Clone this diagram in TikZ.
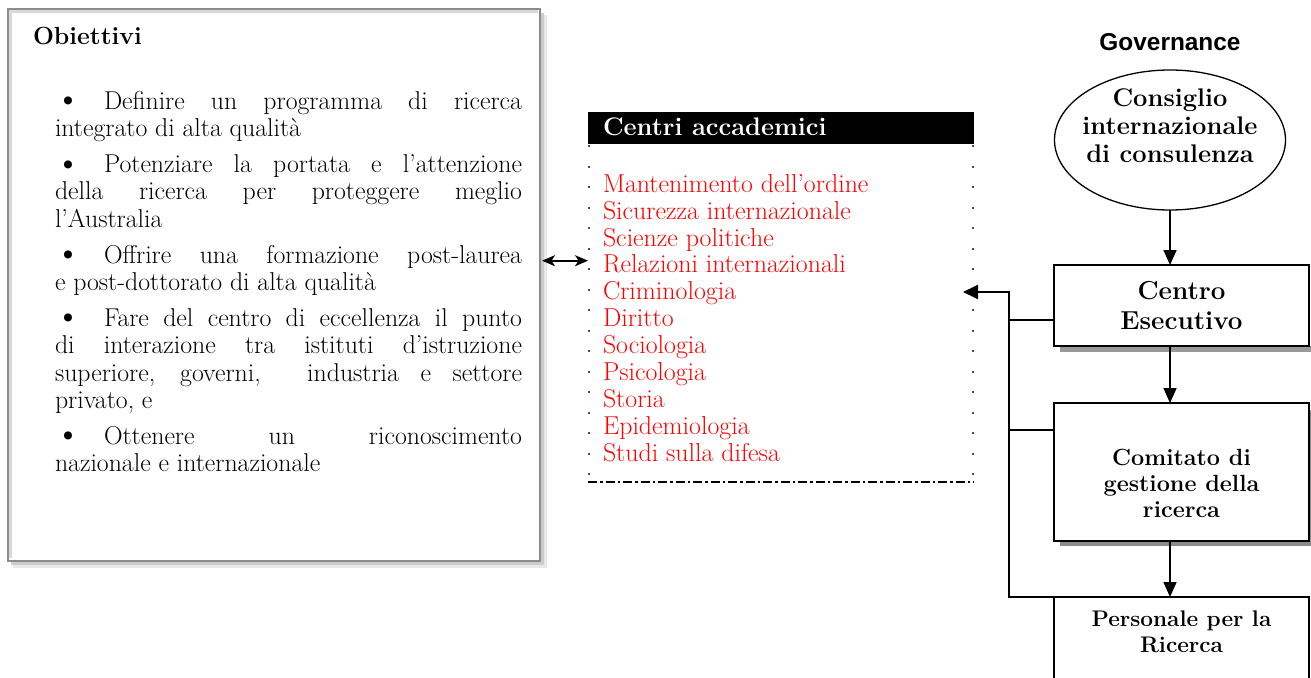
\documentclass[tikz,border=0pt]{standalone}
\usepackage{fontspec}
\newfontfamily\govfont{Liberation Sans}
\usetikzlibrary{arrows.meta,shapes.geometric}
\newcommand{\bul}{\makebox[49pt][l]{\raisebox{-1.5pt}{\fontsize{36}{36}\selectfont\textbullet}}}
\begin{document}
\begin{tikzpicture}[x=1pt,y=-1pt,
  box/.style={draw=black, line width=2pt, fill=white, inner sep=0pt, outer sep=0pt},
  txt/.style={inner sep=0pt, outer sep=0pt},
  lbl/.style={inner sep=0pt, outer sep=0pt, align=center},
  conn/.style={line width=2pt},
  down/.style={line width=1.6pt, -{Triangle[length=15pt,width=13pt]}},
  big/.style={line width=2pt, -{Triangle[length=15pt,width=14pt]}},
  bi/.style={line width=1.6pt, {Stealth[length=13pt,width=11pt,inset=3.5pt]}-{Stealth[length=13pt,width=11pt,inset=3.5pt]}},
]
\useasboundingbox (0,0) rectangle (1311,677);

% ---------- Obiettivi box ----------
\fill[gray!18] (13,15) rectangle (547,568);
\fill[gray!40] (11,13) rectangle (544,565);
\node (obj) [draw=black!45, line width=2pt, fill=white, inner sep=0pt, outer sep=0pt,
  minimum width=532pt, minimum height=551pt] at (274,285) {};
\draw[gray!30, line width=2.5pt] (10.25,558) -- (10.25,11.75) -- (538,11.75);

\node (objtitle) [txt, anchor=base west, font=\bfseries\fontsize{24.8}{28}\selectfont] at (33,45) {Obiettivi};

\node (objlist) [txt, anchor=north west, align=left, font=\fontsize{25.8}{27.3}\selectfont] at (55,91.1) {%
\makebox[467pt][s]{\bul Definire un programma di ricerca}\\
integrato di alta qualità\\[8.7pt]
\makebox[467pt][s]{\bul Potenziare la portata e l'attenzione}\\
\makebox[467pt][s]{della ricerca per proteggere meglio}\\
l’Australia\\[8.7pt]
\makebox[467pt][s]{\bul Offrire una formazione post-laurea}\\
e post-dottorato di alta qualità\\[8.7pt]
\makebox[467pt][s]{\bul Fare del centro di eccellenza il punto}\\
\makebox[467pt][s]{di interazione tra istituti d'istruzione}\\
\makebox[467pt][s]{superiore, governi, \ industria e settore}\\
privato, e\\[8.7pt]
\makebox[467pt][s]{\bul Ottenere un riconoscimento}\\
nazionale e internazionale};

% ---------- Centri accademici ----------
\node (centri) [txt, anchor=north west, minimum width=386pt, minimum height=370pt] at (588,112) {};
\node (cbar) [fill=black, inner sep=0pt, outer sep=0pt, anchor=north west,
  minimum width=386pt, minimum height=32pt] at (588,112) {};
\node (ctitle) [txt, anchor=base west, text=white, font=\bfseries\fontsize{25.4}{28}\selectfont] at (603,135) {Centri accademici};
\draw[black!70, line width=2pt, dash pattern=on 2pt off 18.5pt] (589,145) -- (589,478);
\draw[black!70, line width=2pt, dash pattern=on 2pt off 18.5pt] (972.5,145) -- (972.5,478);
\draw[black, line width=2pt, dash pattern=on 9pt off 3pt on 2.5pt off 3pt] (588,482) -- (974,482);

\node (clist) [txt, anchor=north west, align=left, text={rgb,255:red,255;green,0;blue,0},
  font=\fontsize{25.9}{26.9}\selectfont] at (603,174.3) {%
Mantenimento dell’ordine\\
Sicurezza internazionale\\
Scienze politiche\\
Relazioni internazionali\\
Criminologia\\
Diritto\\
Sociologia\\
Psicologia\\
Storia\\
Epidemiologia\\
Studi sulla difesa};

\coordinate (ay) at (0,260.7);
\draw[bi] ([xshift=2pt]obj.east |- ay) -- (centri.west |- ay);

% ---------- Governance ----------
\node (gov) [txt, anchor=base, font=\govfont\bfseries\fontsize{24.4}{28}\selectfont] at (1170,50.7) {Governance};

\node (cons) [ellipse, draw, line width=1.3pt, fill=white, inner sep=0pt, outer sep=0pt,
  minimum width=231pt, minimum height=140pt] at (1170,140) {};
\node (constext) [lbl, anchor=north, font=\bfseries\fontsize{25.5}{28}\selectfont] at (1170,88.3) {Consiglio\\internazionale\\di consulenza};

% shadows
\fill[black!40] (1060,346) rectangle (1313,352);
\fill[black!45] (1060,410) rectangle (1314,546);

\node (ce) [box, minimum width=255pt, minimum height=81pt, align=center,
  font=\bfseries\fontsize{26}{30}\selectfont] at (1181.5,305.5) {Centro\\Esecutivo};
\node (com) [box, minimum width=255pt, minimum height=138pt] at (1181.5,472) {};
\node (comtext) [lbl, anchor=north, font=\bfseries\fontsize{23.4}{26}\selectfont] at (1181.5,448.8) {Comitato di\\gestione della\\ricerca};
\node (pers) [box, minimum width=255pt, minimum height=87pt] at (1181.5,640.5) {};
\node (perstext) [lbl, anchor=north, font=\bfseries\fontsize{22.6}{26}\selectfont] at (1181.5,611.3) {Personale per la\\Ricerca};

\draw[down] (cons.south) -- (cons.south |- ce.north);
\draw[down] (cons.south |- ce.south) -- (cons.south |- com.north);
\draw[down] (cons.south |- com.south) -- (cons.south |- pers.north);

% left feedback connector
\coordinate (trunk) at (1008.5,292);
\coordinate (tip) at (963,292);
\coordinate (b1) at ([yshift=-55pt]ce.north west);
\coordinate (b2) at ([yshift=-27pt]com.north west);
\draw[big] (pers.north west) -- (trunk |- pers.north west) -- (trunk) -- (tip);
\draw[conn] (b1) -- (trunk |- b1);
\draw[conn] (b2) -- (trunk |- b2);
\end{tikzpicture}
\end{document}
